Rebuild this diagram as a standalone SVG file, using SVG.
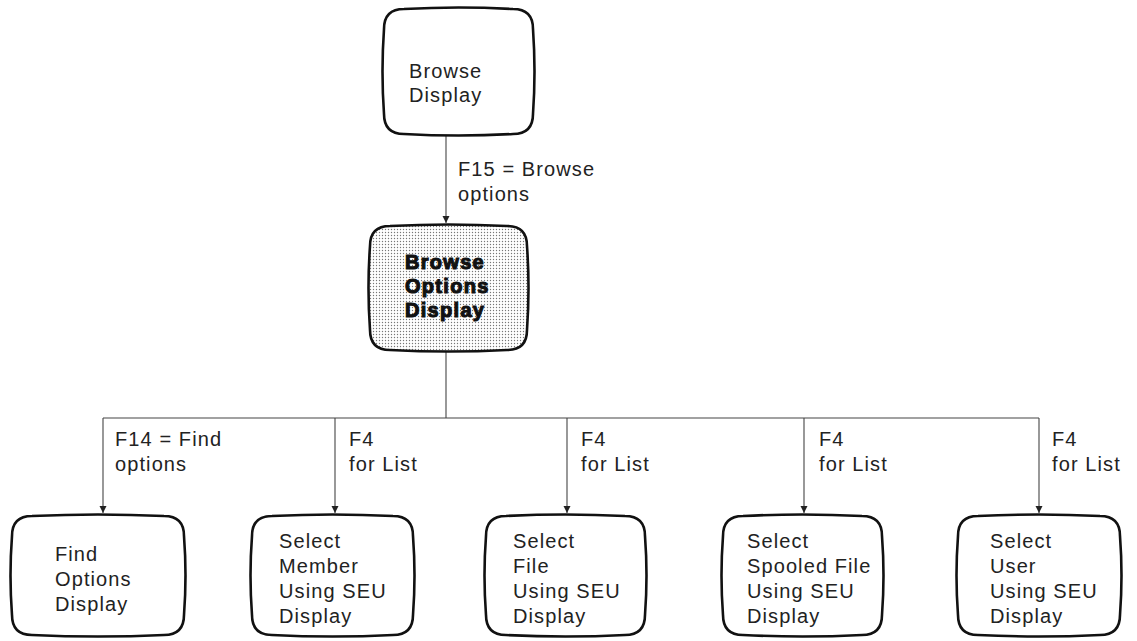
<svg xmlns="http://www.w3.org/2000/svg" width="1137" height="641" viewBox="0 0 1137 641">
<style>
.box{fill:#fff;stroke:#111;stroke-width:2.6;stroke-linejoin:round}
.shaded{fill:url(#dots)}
.t{font-family:"Liberation Sans",Arial,sans-serif;font-size:20px;fill:#222;letter-spacing:1.1px}
.tb{font-family:"Liberation Sans",Arial,sans-serif;font-size:20px;font-weight:bold;fill:#111;stroke:#111;stroke-width:1.1;letter-spacing:1.3px}
.c{fill:none;stroke:#444;stroke-width:1.1}
.a{marker-end:url(#arr)}
</style>
<defs>
<pattern id="dots" width="3" height="3" patternUnits="userSpaceOnUse">
<rect width="3" height="3" fill="#fff"/>
<circle cx="1.5" cy="1.5" r="0.7" fill="#777"/>
</pattern>
<marker id="arr" viewBox="0 0 10 10" refX="10" refY="5" markerWidth="7" markerHeight="8" markerUnits="userSpaceOnUse" orient="auto">
<path d="M0,0 L10,5 L0,10 z" fill="#222"/>
</marker>
</defs>

<g id="connectors">
<line class="c a" x1="446" y1="136" x2="446" y2="223"/>
<polyline class="c" points="446,352 446,418"/>
<line class="c" x1="103" y1="418" x2="1039" y2="418"/>
<line class="c a" x1="103" y1="418" x2="103" y2="513"/>
<line class="c a" x1="335" y1="418" x2="335" y2="513"/>
<line class="c a" x1="567" y1="418" x2="567" y2="513"/>
<line class="c a" x1="804" y1="418" x2="804" y2="513"/>
<line class="c a" x1="1039" y1="418" x2="1039" y2="513"/>
<text class="t" x="458" y="176">F15 = Browse</text>
<text class="t" x="458" y="201">options</text>
<text class="t" x="115" y="446">F14 = Find</text>
<text class="t" x="115" y="471">options</text>
<text class="t" x="349" y="446">F4</text>
<text class="t" x="349" y="471">for List</text>
<text class="t" x="581" y="446">F4</text>
<text class="t" x="581" y="471">for List</text>
<text class="t" x="819" y="446">F4</text>
<text class="t" x="819" y="471">for List</text>
<text class="t" x="1052" y="446">F4</text>
<text class="t" x="1052" y="471">for List</text>
</g>

<g id="browse-display">
<path class="box" d="M404,9 Q458.5,6 513,9 Q533,9 533,29 Q536,71.5 533,114 Q533,134 513,134 Q458.5,137 404,134 Q384,134 384,114 Q381,71.5 384,29 Q384,9 404,9 Z"/>
<text class="t" x="409" y="78">Browse</text>
<text class="t" x="409" y="102">Display</text>
</g>

<g id="browse-options-display">
<path class="box shaded" d="M390,226 Q448.5,223 507,226 Q527,226 527,246 Q530,288 527,330 Q527,350 507,350 Q448.5,353 390,350 Q370,350 370,330 Q367,288 370,246 Q370,226 390,226 Z"/>
<text class="tb" x="405" y="269">Browse</text>
<text class="tb" x="405" y="293">Options</text>
<text class="tb" x="405" y="317">Display</text>
</g>

<g id="find-options-display">
<path class="box" d="M32,516 Q98,513 164,516 Q184,516 184,536 Q187,575.5 184,615 Q184,635 164,635 Q98,638 32,635 Q12,635 12,615 Q9,575.5 12,536 Q12,516 32,516 Z"/>
<text class="t" x="55" y="561">Find</text>
<text class="t" x="55" y="586">Options</text>
<text class="t" x="55" y="611">Display</text>
</g>

<g id="select-member">
<path class="box" d="M272,516 Q332.5,513 393,516 Q413,516 413,536 Q416,575.5 413,615 Q413,635 393,635 Q332.5,638 272,635 Q252,635 252,615 Q249,575.5 252,536 Q252,516 272,516 Z"/>
<text class="t" x="279" y="548">Select</text>
<text class="t" x="279" y="573">Member</text>
<text class="t" x="279" y="598">Using SEU</text>
<text class="t" x="279" y="623">Display</text>
</g>

<g id="select-file">
<path class="box" d="M506,516 Q565.5,513 625,516 Q645,516 645,536 Q648,575.5 645,615 Q645,635 625,635 Q565.5,638 506,635 Q486,635 486,615 Q483,575.5 486,536 Q486,516 506,516 Z"/>
<text class="t" x="513" y="548">Select</text>
<text class="t" x="513" y="573">File</text>
<text class="t" x="513" y="598">Using SEU</text>
<text class="t" x="513" y="623">Display</text>
</g>

<g id="select-spooled-file">
<path class="box" d="M743,516 Q802.5,513 862,516 Q882,516 882,536 Q885,575.5 882,615 Q882,635 862,635 Q802.5,638 743,635 Q723,635 723,615 Q720,575.5 723,536 Q723,516 743,516 Z"/>
<text class="t" x="747" y="548">Select</text>
<text class="t" x="747" y="573">Spooled File</text>
<text class="t" x="747" y="598">Using SEU</text>
<text class="t" x="747" y="623">Display</text>
</g>

<g id="select-user">
<path class="box" d="M978,516 Q1039,513 1100,516 Q1120,516 1120,536 Q1123,575.5 1120,615 Q1120,635 1100,635 Q1039,638 978,635 Q958,635 958,615 Q955,575.5 958,536 Q958,516 978,516 Z"/>
<text class="t" x="990" y="548">Select</text>
<text class="t" x="990" y="573">User</text>
<text class="t" x="990" y="598">Using SEU</text>
<text class="t" x="990" y="623">Display</text>
</g>
</svg>
